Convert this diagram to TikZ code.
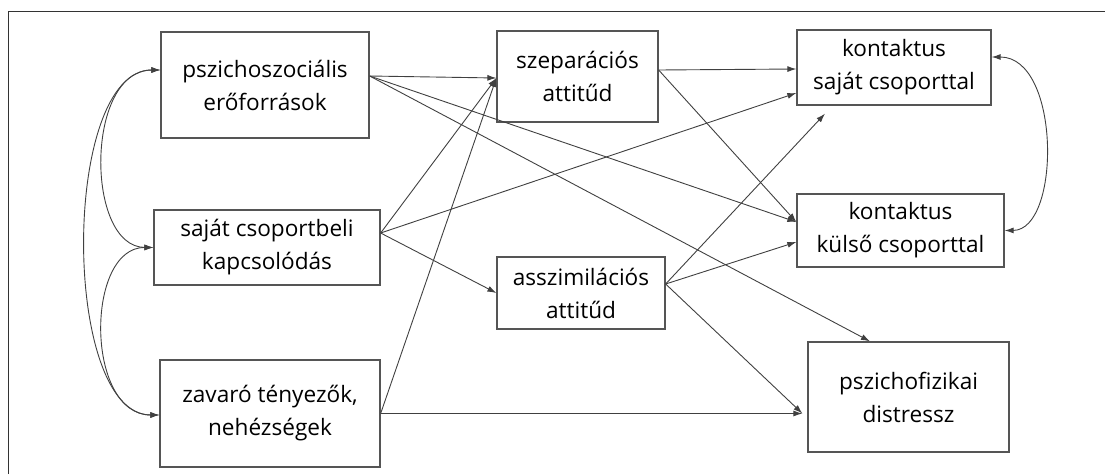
\documentclass[tikz,border=0pt]{standalone}
\usepackage{fontspec}
\setmainfont{Open Sans}
\usetikzlibrary{arrows.meta}
\definecolor{linec}{HTML}{404040}
\definecolor{boxc}{HTML}{555555}
\tikzset{
  box/.style={draw=boxc, line width=1.3pt, align=center, inner sep=0pt,
    font=\fontsize{22.6}{33}\selectfont, text=black},
  conn/.style={draw=linec, line width=0.9pt, -{Latex[length=9pt,width=6pt]}},
  dconn/.style={draw=linec, line width=0.9pt, {Latex[length=9pt,width=6pt]}-{Latex[length=9pt,width=6pt]}},
}
\begin{document}
\begin{tikzpicture}[x=1pt,y=-1pt]
\useasboundingbox (0,0) rectangle (1105,474);
\draw[line width=1pt, black!80] (8,474) -- (8,11) -- (1105,11);

\node[box, minimum width=208pt, minimum height=106pt] (ps) at (265,85) {pszichoszociális\\erőforrások};
\node[box, minimum width=226pt, minimum height=75pt] (sc) at (267,247.5) {saját csoportbeli\\kapcsolódás};
\node[box, minimum width=220pt, minimum height=107pt] (zv) at (270,413.5) {zavaró tényezők,\\nehézségek};
\node[box, minimum width=161pt, minimum height=91pt] (sz) at (577.5,76.5) {szeparációs\\attitűd};
\node[box, minimum width=168pt, minimum height=72pt] (as) at (581,293) {asszimilációs\\attitűd};
\node[box, minimum width=194pt, minimum height=75pt] (ks) at (894,67.5) {kontaktus\\saját csoporttal};
\node[box, minimum width=207pt, minimum height=73pt] (kk) at (900.5,230.5) {kontaktus\\külső csoporttal};
\node[box, minimum width=201pt, minimum height=110pt] (pf) at (908.5,397) {pszichofizikai\\distressz};

% from pszichoszocialis
\draw[conn] ([yshift=9pt]ps.east) -- ([yshift=-1.5pt]sz.west);
\draw[conn] ([yshift=9pt]ps.east) -- ([yshift=8.5pt]kk.west);
\draw[conn] ([yshift=9pt]ps.east) -- ([xshift=-38.5pt]pf.north);
% from sajat csoportbeli
\draw[conn] ([yshift=14.5pt]sc.east) -- ([yshift=-1.5pt]sz.west);
\draw[conn] ([yshift=14.5pt]sc.east) -- ([yshift=-25.5pt]ks.west);
\draw[conn] ([yshift=14.5pt]sc.east) -- (as.west);
% from zavaro
\draw[conn] (zv.east) -- ([yshift=-1.5pt]sz.west);
\draw[conn] (zv.east) -- ([xshift=-5pt,yshift=-16.5pt]pf.west);
% from szeparacios
\draw[conn] ([yshift=6.5pt]sz.east) -- ([yshift=-1.5pt]ks.west);
\draw[conn] ([yshift=6.5pt]sz.east) -- ([yshift=8.5pt]kk.west);
% from asszimilacios
\draw[conn] ([yshift=9pt]as.east) -- ([xshift=-69pt,yshift=-8pt]ks.south);
\draw[conn] ([yshift=9pt]as.east) -- ([yshift=-11.5pt]kk.west);
\draw[conn] ([yshift=9pt]as.east) -- ([xshift=-5pt,yshift=-16.5pt]pf.west);

% correlations
\draw[dconn] ([yshift=15pt]ps.west) .. controls (85,70) and (85,247) .. (sc.west);
\draw[dconn] (sc.west) .. controls (85,247) and (85,415) .. ([yshift=-1.5pt]zv.west);
\draw[dconn] ([yshift=15pt]ps.west) .. controls (61,70) and (61,415) .. ([yshift=-1.5pt]zv.west);
\draw[dconn] ([yshift=10.5pt]ks.east) .. controls (1061,57) and (1061,230) .. (kk.east);
\end{tikzpicture}
\end{document}
